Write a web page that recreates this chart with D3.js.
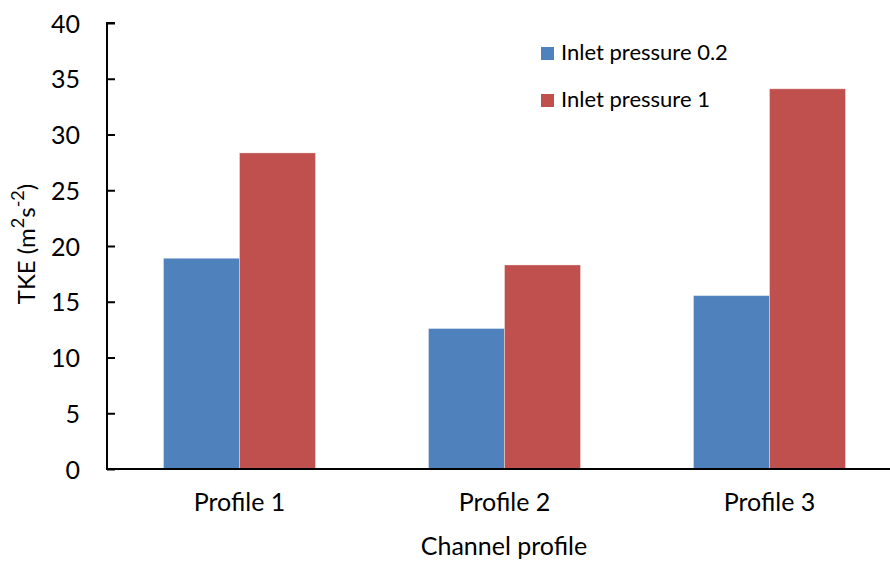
<!DOCTYPE html>
<html>
<head>
<meta charset="utf-8">
<script src="https://cdn.jsdelivr.net/npm/d3@7/dist/d3.min.js"></script>
<style>
  html, body { margin: 0; padding: 0; background: #fff; }
  svg { display: block; }
  text { font-family: Lato, "Open Sans", sans-serif; fill: #000; }
</style>
</head>
<body>
<svg id="chart" width="890" height="564"></svg>
<script>
// Turbulent kinetic energy per channel profile, two inlet pressures
const categories = ["Profile 1", "Profile 2", "Profile 3"];
const seriesNames = ["Inlet pressure 0.2", "Inlet pressure 1"];
const pressureLow = [18.9, 12.6, 15.55];
const pressureHigh = [28.35, 18.3, 34.1];
const yTicks = [0, 5, 10, 15, 20, 25, 30, 35, 40];
const colors = ["#4F81BD", "#C0504D"];

const series = [pressureLow, pressureHigh];

const svg = d3.select("#chart");
const margin = { left: 107, top: 23, bottom: 469 };
const plotRight = 902;

const x = d3.scaleBand()
  .domain(categories)
  .range([margin.left, plotRight])
  .paddingInner(0.4264)
  .paddingOuter(0.2132);

const xInner = d3.scaleBand()
  .domain(seriesNames)
  .range([0, x.bandwidth()]);

const y = d3.scaleLinear()
  .domain([0, 40])
  .range([margin.bottom, margin.top]);

// bars
const groups = svg.append("g")
  .selectAll("g")
  .data(categories)
  .join("g")
  .attr("transform", d => `translate(${x(d)},0)`);

groups.selectAll("rect")
  .data((c, i) => series.map((s, k) => ({ name: seriesNames[k], value: s[i], k })))
  .join("rect")
  .attr("x", d => xInner(d.name))
  .attr("width", xInner.bandwidth())
  .attr("y", d => y(d.value))
  .attr("height", d => y(0) - y(d.value))
  .attr("fill", d => colors[d.k])
  .attr("stroke", "rgba(255,255,255,0.35)")
  .attr("stroke-width", 1);

// y axis with ticks pointing into the plot
const yAxis = d3.axisRight(y).tickValues(yTicks).tickSize(8).tickFormat(d3.format("d"));
const gy = svg.append("g")
  .attr("transform", `translate(${margin.left},0)`)
  .call(yAxis);
gy.select(".domain").attr("stroke", "#000").attr("stroke-width", 2)
  .attr("d", `M${8},${y(40)}H0V${y(0)}`);
gy.selectAll(".tick line").attr("stroke", "#000").attr("stroke-width", 2);
gy.selectAll(".tick text")
  .attr("x", -27)
  .attr("text-anchor", "end")
  .attr("dy", "0.36em")
  .style("font-size", "25px");

// x axis: baseline only, labels below
const xAxis = d3.axisBottom(x).tickSize(0).tickPadding(24);
const gx = svg.append("g")
  .attr("transform", `translate(0,${y(0)})`)
  .call(xAxis);
gx.select(".domain").attr("stroke", "#000").attr("stroke-width", 2)
  .attr("d", `M${margin.left - 1},0H${plotRight}`);
gx.selectAll(".tick text").style("font-size", "25px").attr("dy", "0.71em");

// axis titles
svg.append("text")
  .attr("x", 504)
  .attr("y", 555)
  .attr("text-anchor", "middle")
  .style("font-size", "25px")
  .text("Channel profile");

const yTitle = svg.append("text")
  .attr("transform", `translate(35,244) rotate(-90)`)
  .attr("text-anchor", "middle")
  .style("font-size", "24px");
yTitle.append("tspan").text("TKE (m");
yTitle.append("tspan").attr("baseline-shift", "super").style("font-size", "18px").text("2");
yTitle.append("tspan").text("s");
yTitle.append("tspan").attr("baseline-shift", "super").style("font-size", "18px").text("-2");
yTitle.append("tspan").text(")");

// legend
const legend = svg.append("g")
  .selectAll("g")
  .data(seriesNames)
  .join("g")
  .attr("transform", (d, i) => `translate(541,${47 + i * 47})`);
legend.append("rect")
  .attr("width", 13).attr("height", 13)
  .attr("fill", (d, i) => colors[i]);
legend.append("text")
  .attr("x", 20)
  .attr("y", 13)
  .style("font-size", "22px")
  .text(d => d);
</script>
</body>
</html>
